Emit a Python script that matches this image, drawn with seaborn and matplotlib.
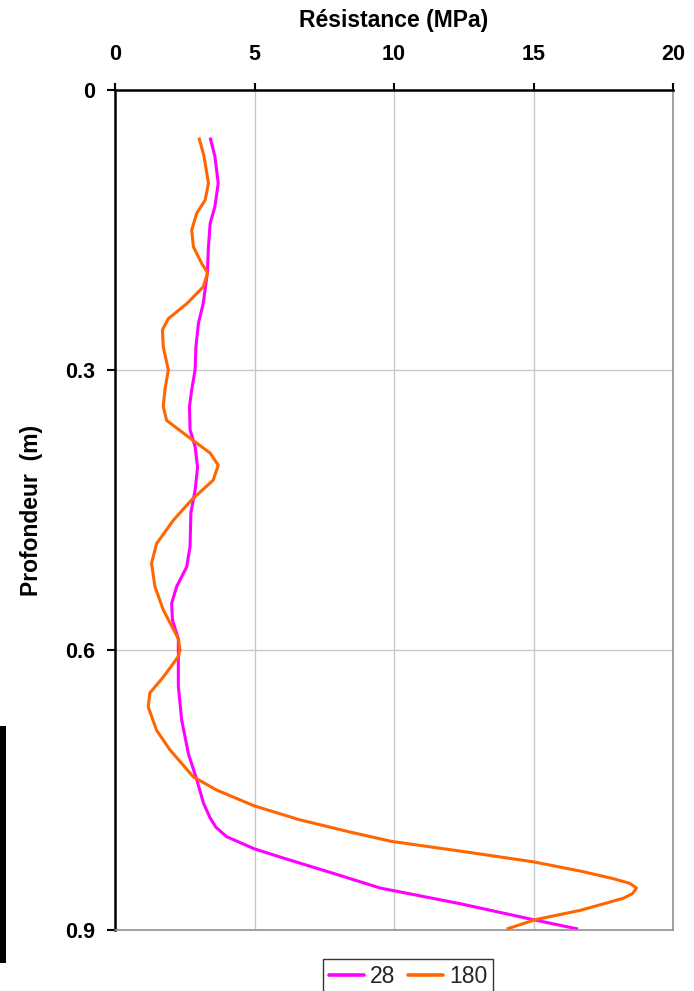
import numpy as np
import pandas as pd
import seaborn as sns
import matplotlib.pyplot as plt
from matplotlib.lines import Line2D
from matplotlib.patches import Rectangle

# Penetrometer profiles: depth (m) and cone resistance (MPa)
depth_28 = [0.051, 0.071, 0.100, 0.125, 0.143, 0.168, 0.196, 0.229, 0.250, 0.275,
            0.300, 0.321, 0.339, 0.364, 0.382, 0.404, 0.429, 0.453, 0.489, 0.511,
            0.532, 0.550, 0.568, 0.588, 0.604, 0.639, 0.675, 0.711, 0.739, 0.764,
            0.780, 0.790, 0.800, 0.813, 0.824, 0.840, 0.855, 0.872, 0.889, 0.899]
res_28 = [3.41, 3.58, 3.70, 3.58, 3.41, 3.35, 3.31, 3.16, 2.99, 2.90,
          2.87, 2.75, 2.67, 2.69, 2.87, 2.96, 2.87, 2.72, 2.69, 2.57,
          2.21, 2.03, 2.06, 2.27, 2.27, 2.27, 2.39, 2.63, 2.93, 3.17,
          3.41, 3.62, 4.00, 4.99, 6.15, 7.90, 9.50, 12.40, 15.00, 16.60]

depth_180 = [0.051, 0.071, 0.100, 0.118, 0.132, 0.150, 0.168, 0.186, 0.196, 0.211,
             0.229, 0.245, 0.257, 0.275, 0.300, 0.321, 0.339, 0.354, 0.373, 0.389,
             0.402, 0.418, 0.439, 0.461, 0.486, 0.507, 0.532, 0.557, 0.588, 0.600,
             0.607, 0.629, 0.646, 0.661, 0.686, 0.707, 0.736, 0.750, 0.767, 0.782,
             0.795, 0.805, 0.816, 0.827, 0.837, 0.845, 0.850, 0.855, 0.861, 0.866,
             0.879, 0.889, 0.899]
res_180 = [3.01, 3.19, 3.35, 3.23, 2.93, 2.75, 2.81, 3.11, 3.32, 3.16,
           2.57, 1.91, 1.70, 1.73, 1.91, 1.79, 1.73, 1.85, 2.69, 3.41,
           3.70, 3.52, 2.75, 2.09, 1.49, 1.31, 1.43, 1.73, 2.27, 2.33,
           2.27, 1.73, 1.25, 1.19, 1.49, 1.97, 2.81, 3.64, 4.99, 6.63,
           8.42, 9.90, 12.50, 15.00, 16.70, 17.86, 18.45, 18.69, 18.55, 18.22,
           16.67, 15.05, 14.04]

series_names = ["28", "180"]
series_colors = {"28": "#FF00FF", "180": "#FF6600"}

x_ticks = [0, 5, 10, 15, 20]
y_ticks = [0, 0.3, 0.6, 0.9]
y_tick_labels = ["0", "0.3", "0.6", "0.9"]

df = pd.concat([
    pd.DataFrame({"Profondeur": depth_28, "Résistance": res_28, "Série": "28"}),
    pd.DataFrame({"Profondeur": depth_180, "Résistance": res_180, "Série": "180"}),
], ignore_index=True)

sns.set_theme(style="white")
plt.rcParams["font.family"] = ["Liberation Sans", "DejaVu Sans"]

W, H = 694, 991
fig = plt.figure(figsize=(W / 100, H / 100), dpi=100)
ax = fig.add_axes([115 / W, 1 - 930 / H, (673 - 115) / W, (930 - 90) / H])

sns.lineplot(data=df, x="Résistance", y="Profondeur", hue="Série",
             hue_order=series_names, palette=series_colors, orient="y",
             estimator=None, linewidth=2.2, legend=False, ax=ax,
             solid_joinstyle="round", solid_capstyle="butt")

ax.set_xlim(0, 20)
ax.set_ylim(0.9, 0)
ax.set_xticks(x_ticks)
ax.set_yticks(y_ticks)
ax.set_yticklabels(y_tick_labels)
ax.xaxis.tick_top()
ax.xaxis.set_label_position("top")

ax.grid(True, color="#c8c8c8", linewidth=1.0)
ax.set_axisbelow(True)

for side in ("top", "left"):
    ax.spines[side].set_color("black")
    ax.spines[side].set_linewidth(1.8)
for side in ("right", "bottom"):
    ax.spines[side].set_color("#909090")
    ax.spines[side].set_linewidth(1.2)

ax.tick_params(axis="x", which="both", top=True, bottom=False, direction="out",
               length=5, width=1.5, color="black", pad=13, labelsize=15.5,
               labelcolor="black")
ax.tick_params(axis="y", which="both", left=True, direction="out",
               length=6, width=1.5, color="black", pad=8, labelsize=15.5,
               labelcolor="black")
for lab in ax.get_xticklabels() + ax.get_yticklabels():
    lab.set_fontweight("bold")

ax.set_xlabel("Résistance (MPa)", fontsize=16.5, fontweight="bold", labelpad=12,
              color="black")
ax.set_ylabel("Profondeur  (m)", fontsize=16.5, fontweight="bold", labelpad=16,
              color="black")

handles = [Line2D([0], [0], color=series_colors[s], lw=2.6) for s in series_names]
leg = fig.legend(handles, series_names, loc="upper center",
                 bbox_to_anchor=(408 / W, 1 - 959 / H), ncol=2, frameon=True,
                 fancybox=False, edgecolor="black", fontsize=16.5,
                 handlelength=1.55, handletextpad=0.25, columnspacing=0.55,
                 borderpad=0.25, borderaxespad=0.0)
leg.get_frame().set_linewidth(1.0)

# dark bar along the lower left edge
fig.add_artist(Rectangle((0, 1 - 963 / H), 6 / W, (963 - 726) / H,
                         transform=fig.transFigure, color="black", lw=0))

fig.savefig("out.png", dpi=100)
